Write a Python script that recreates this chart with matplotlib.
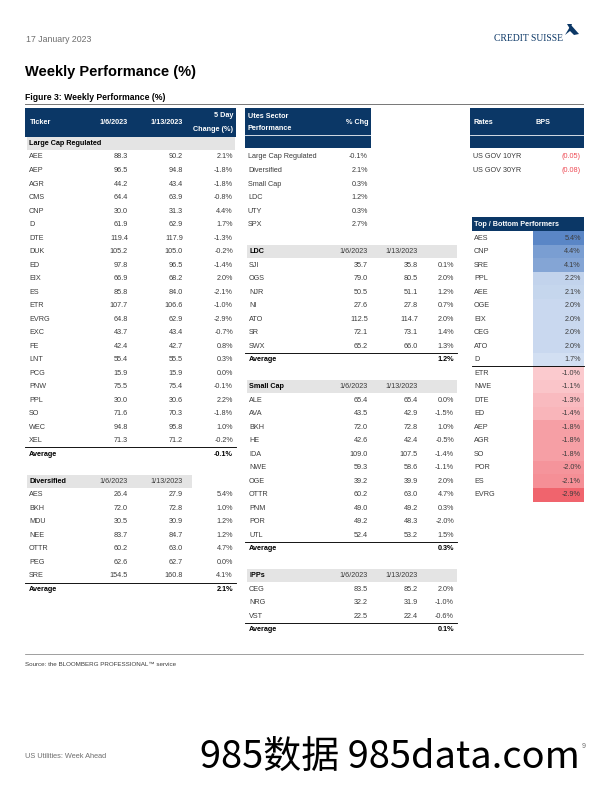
import matplotlib.pyplot as plt
from matplotlib.patches import Rectangle
from matplotlib.colors import LinearSegmentedColormap

plt.rcParams['font.family'] = ['Liberation Sans', 'DejaVu Sans']

# ---- data ----
large_cap = ["AEE", "AEP", "AGR", "CMS", "CNP", "D", "DTE", "DUK", "ED", "EIX", "ES",
             "ETR", "EVRG", "EXC", "FE", "LNT", "PCG", "PNW", "PPL", "SO", "WEC", "XEL"]
large_cap_jan6 = [88.3, 96.5, 44.2, 64.4, 30.0, 61.9, 119.4, 105.2, 97.8, 66.9, 85.8,
                  107.7, 64.8, 43.7, 42.4, 55.4, 15.9, 75.5, 30.0, 71.6, 94.8, 71.3]
large_cap_jan13 = [90.2, 94.8, 43.4, 63.9, 31.3, 62.9, 117.9, 105.0, 96.5, 68.2, 84.0,
                   106.6, 62.9, 43.4, 42.7, 55.5, 15.9, 75.4, 30.6, 70.3, 95.8, 71.2]
large_cap_chg = [2.1, -1.8, -1.8, -0.8, 4.4, 1.7, -1.3, -0.2, -1.4, 2.0, -2.1,
                 -1.0, -2.9, -0.7, 0.8, 0.3, 0.0, -0.1, 2.2, -1.8, 1.0, -0.2]
large_cap_avg = -0.1

diversified = ["AES", "BKH", "MDU", "NEE", "OTTR", "PEG", "SRE"]
diversified_jan6 = [26.4, 72.0, 30.5, 83.7, 60.2, 62.6, 154.5]
diversified_jan13 = [27.9, 72.8, 30.9, 84.7, 63.0, 62.7, 160.8]
diversified_chg = [5.4, 1.0, 1.2, 1.2, 4.7, 0.0, 4.1]
diversified_avg = 2.1

sectors = ["Large Cap Regulated", "Diversified", "Small Cap", "LDC", "UTY", "SPX"]
sector_chg = [-0.1, 2.1, 0.3, 1.2, 0.3, 2.7]

ldc = ["SJI", "OGS", "NJR", "NI", "ATO", "SR", "SWX"]
ldc_jan6 = [35.7, 79.0, 50.5, 27.6, 112.5, 72.1, 65.2]
ldc_jan13 = [35.8, 80.5, 51.1, 27.8, 114.7, 73.1, 66.0]
ldc_chg = [0.1, 2.0, 1.2, 0.7, 2.0, 1.4, 1.3]
ldc_avg = 1.2

small_cap = ["ALE", "AVA", "BKH", "HE", "IDA", "NWE", "OGE", "OTTR", "PNM", "POR", "UTL"]
small_cap_jan6 = [65.4, 43.5, 72.0, 42.6, 109.0, 59.3, 39.2, 60.2, 49.0, 49.2, 52.4]
small_cap_jan13 = [65.4, 42.9, 72.8, 42.4, 107.5, 58.6, 39.9, 63.0, 49.2, 48.3, 53.2]
small_cap_chg = [0.0, -1.5, 1.0, -0.5, -1.4, -1.1, 2.0, 4.7, 0.3, -2.0, 1.5]
small_cap_avg = 0.3

ipps = ["CEG", "NRG", "VST"]
ipps_jan6 = [83.5, 32.2, 22.5]
ipps_jan13 = [85.2, 31.9, 22.4]
ipps_chg = [2.0, -1.0, -0.6]
ipps_avg = 0.1

rates = ["US GOV 10YR", "US GOV 30YR"]
rates_bps = [-0.05, -0.08]

top_names = ["AES", "CNP", "SRE", "PPL", "AEE", "OGE", "EIX", "CEG", "ATO", "D"]
top_chg = [5.4, 4.4, 4.1, 2.2, 2.1, 2.0, 2.0, 2.0, 2.0, 1.7]
bottom_names = ["ETR", "NWE", "DTE", "ED", "AEP", "AGR", "SO", "POR", "ES", "EVRG"]
bottom_chg = [-1.0, -1.1, -1.3, -1.4, -1.8, -1.8, -1.8, -2.0, -2.1, -2.9]

dates = ["1/6/2023", "1/13/2023"]

# ---- page ----
NAVY = "#0b3766"
GRAY_BAND = "#e4e4e4"
TXT = "#3c3c3c"
FS = 7.3
Y0, PITCH = 157, 13.51


def row_y(i):
    return Y0 + i * PITCH


fig = plt.figure(figsize=(8.5, 11), dpi=72)
ax = fig.add_axes([0, 0, 1, 1])
ax.set_xlim(0, 612)
ax.set_ylim(792, 0)
ax.axis('off')

ax.text(26, 39, "17 January 2023", fontsize=8.8, color="#6e6e6e", va='center')
ax.text(563, 38.5, "CREDIT SUISSE", fontsize=9.6, color=NAVY, ha='right', va='center',
        family=['Liberation Serif', 'DejaVu Serif'])
ax.fill([565, 571, 579, 574, 570], [35, 25, 34, 35, 31], color=NAVY, lw=0)
ax.fill([567, 572, 570], [24, 24, 29], color=NAVY, lw=0)

ax.text(25, 72, "Weekly Performance (%)", fontsize=14.6, fontweight='bold', va='center')
ax.text(25, 98, "Figure 3: Weekly Performance (%)", fontsize=8.6, fontweight='bold', va='center')
ax.plot([25, 583], [104, 104], color="#7a7a7a", lw=1)


def val_text(x, y, s, bold=False, color=TXT):
    ax.text(x, y, s, fontsize=FS, ha='right', va='center', color='black' if bold else color,
            fontweight='bold' if bold else 'normal')


def section(x0, x1, band_x1, cols, start, title, names, v1, v2, chg, avg, show_dates=True):
    y = row_y(start)
    ax.add_patch(Rectangle((x0 + 2, y - 6.5), band_x1 - x0 - 2, 13, color=GRAY_BAND, lw=0))
    ax.text(x0 + 4, y, title, fontsize=FS, fontweight='bold', va='center')
    if show_dates:
        val_text(cols[0], y, dates[0])
        val_text(cols[1], y, dates[1])
    for k, name in enumerate(names):
        yy = row_y(start + 1 + k)
        ax.text(x0 + 4, yy, name, fontsize=FS, va='center', color=TXT)
        val_text(cols[0], yy, f"{v1[k]:.1f}")
        val_text(cols[1], yy, f"{v2[k]:.1f}")
        val_text(cols[2], yy, f"{chg[k]:.1f}%")
    ya = row_y(start + len(names)) + PITCH / 2
    ax.plot([x0, x1], [ya, ya], color='black', lw=0.9)
    ax.text(x0 + 4, row_y(start + len(names) + 1), "Average", fontsize=FS, fontweight='bold', va='center')
    val_text(cols[2], row_y(start + len(names) + 1), f"{avg:.1f}%", bold=True)


# table 1
c1 = [128, 183, 233]
ax.add_patch(Rectangle((25, 108), 211, 28.5, color=NAVY, lw=0))
hkw = dict(fontsize=FS, color='white', fontweight='bold', va='center')
ax.text(30, 123, "Ticker", **hkw)
ax.text(c1[0], 123, dates[0], ha='right', **hkw)
ax.text(c1[1], 123, dates[1], ha='right', **hkw)
ax.text(c1[2], 115.5, "5 Day", ha='right', **hkw)
ax.text(c1[2], 129.5, "Change (%)", ha='right', **hkw)
section(25, 236, 235, c1, -1, "Large Cap Regulated", large_cap, large_cap_jan6,
        large_cap_jan13, large_cap_chg, large_cap_avg, show_dates=False)
section(25, 236, 192, c1, 24, "Diversified", diversified, diversified_jan6,
        diversified_jan13, diversified_chg, diversified_avg)

# table 2
ax.add_patch(Rectangle((245, 108), 126, 40, color=NAVY, lw=0))
ax.plot([245, 371], [135, 135], color='white', lw=0.8)
ax.text(248, 116, "Utes Sector", **hkw)
ax.text(248, 128, "Performance", **hkw)
ax.text(368, 122, "% Chg", ha='right', **hkw)
for k, name in enumerate(sectors):
    ax.text(248, row_y(k), name, fontsize=FS, va='center', color=TXT)
    val_text(368, row_y(k), f"{sector_chg[k]:.1f}%")

c2 = [368, 418, 454]
section(245, 457, 457, c2, 7, "LDC", ldc, ldc_jan6, ldc_jan13, ldc_chg, ldc_avg)
section(245, 457, 457, c2, 17, "Small Cap", small_cap, small_cap_jan6, small_cap_jan13,
        small_cap_chg, small_cap_avg)
section(245, 457, 457, c2, 31, "IPPs", ipps, ipps_jan6, ipps_jan13, ipps_chg, ipps_avg)

# rates
ax.add_patch(Rectangle((470, 108), 114, 40, color=NAVY, lw=0))
ax.plot([470, 584], [135, 135], color='white', lw=0.8)
ax.text(473, 122, "Rates", **hkw)
ax.text(535, 122, "BPS", **hkw)
for k, name in enumerate(rates):
    ax.text(473, row_y(k), name, fontsize=FS, va='center', color=TXT)
    val_text(581, row_y(k), f"({abs(rates_bps[k]):.2f})", color="#ee4b55")

# top / bottom performers
ax.add_patch(Rectangle((472, row_y(5) - 7.5), 112, 14, color=NAVY, lw=0))
ax.text(474, row_y(5), "Top / Bottom Performers", **hkw)
blues = LinearSegmentedColormap.from_list("b", ["#d2dff2", "#5a86c6"])
reds = LinearSegmentedColormap.from_list("r", ["#fbcace", "#f0646d"])
lo, hi = min(top_chg), max(top_chg)
for k, name in enumerate(top_names):
    y = row_y(6 + k)
    ax.add_patch(Rectangle((533, y - PITCH / 2), 51, PITCH,
                           color=blues((top_chg[k] - lo) / (hi - lo)), lw=0))
    ax.text(474, y, name, fontsize=FS, va='center', color=TXT)
    val_text(581, y, f"{top_chg[k]:.1f}%")
lo, hi = max(bottom_chg), min(bottom_chg)
for k, name in enumerate(bottom_names):
    y = row_y(16 + k)
    ax.add_patch(Rectangle((533, y - PITCH / 2), 51, PITCH,
                           color=reds((bottom_chg[k] - lo) / (hi - lo)), lw=0))
    ax.text(474, y, name, fontsize=FS, va='center', color=TXT)
    val_text(581, y, f"{bottom_chg[k]:.1f}%")
ax.plot([472, 584], [row_y(15) + PITCH / 2] * 2, color='black', lw=0.9)

# footer
ax.plot([25, 583], [654, 654], color="#7a7a7a", lw=0.7)
ax.text(25, 665, "Source: the BLOOMBERG PROFESSIONAL\u2122 service", fontsize=6.2, color=TXT, va='center')
ax.text(25, 757, "US Utilities: Week Ahead", fontsize=7.4, color="#6e6e6e", va='center')
ax.text(586, 747, "9", fontsize=7, color="#6e6e6e", ha='right', va='center')
ax.text(390, 757, "985数据 985data.com", fontsize=38, color='black', ha='center', va='center',
        family=['Noto Sans CJK SC', 'DejaVu Sans'])

fig.savefig("out.png", dpi=72)
